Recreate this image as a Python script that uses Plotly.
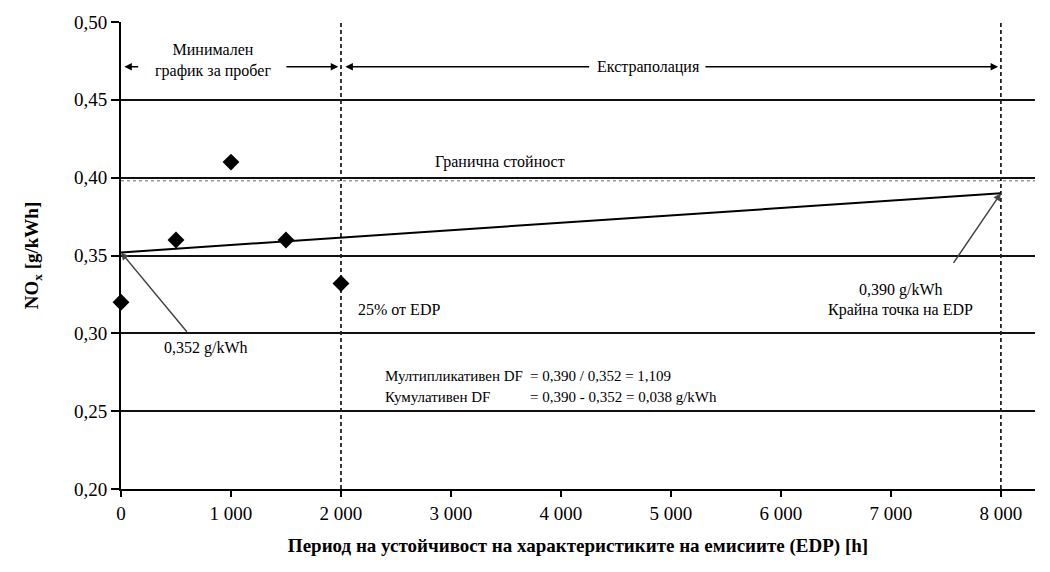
import plotly.graph_objects as go

# Data
test_hours = [0, 500, 1000, 1500, 2000]
nox_values = [0.320, 0.360, 0.410, 0.360, 0.332]
trend_x = [0, 8000]
trend_y = [0.352, 0.390]
limit_value = 0.398
edp_markers = [2000, 8000]
x_ticks = [0, 1000, 2000, 3000, 4000, 5000, 6000, 7000, 8000]
y_ticks = [0.20, 0.25, 0.30, 0.35, 0.40, 0.45, 0.50]

FONT = "Liberation Serif, Times New Roman, serif"
fig = go.Figure()

fig.add_trace(go.Scatter(x=[0, 8310], y=[limit_value, limit_value], mode="lines",
                         line=dict(color="#999999", width=1.5, dash="dot"),
                         hoverinfo="skip", showlegend=False))
for xv in edp_markers:
    fig.add_trace(go.Scatter(x=[xv, xv], y=[0.20, 0.50], mode="lines",
                             line=dict(color="#222222", width=1.8, dash="4px,3px"),
                             hoverinfo="skip", showlegend=False))
fig.add_trace(go.Scatter(x=trend_x, y=trend_y, mode="lines",
                         line=dict(color="black", width=2),
                         showlegend=False))
fig.add_trace(go.Scatter(x=test_hours, y=nox_values, mode="markers",
                         marker=dict(symbol="diamond", size=13, color="black"),
                         cliponaxis=False, showlegend=False))

ann = []
def text(x, y, s, anchor="center", size=16):
    ann.append(dict(x=x, y=y, xref="x", yref="y", text=s, showarrow=False,
                    xanchor=anchor, font=dict(family=FONT, size=size, color="black")))

def arrow(x_head, y_head, x_tail, y_tail, color="black", width=1.5, head=2):
    ann.append(dict(x=x_head, y=y_head, ax=x_tail, ay=y_tail, xref="x", yref="y",
                    axref="x", ayref="y", text="", showarrow=True, arrowhead=head,
                    arrowsize=1, arrowwidth=width, arrowcolor=color))

arrow_y = 0.4713
text(836, 0.4755, "Минимален<br>график за пробег")
arrow(30, arrow_y, 170, arrow_y)
arrow(1975, arrow_y, 1490, arrow_y)
arrow(2040, arrow_y, 4270, arrow_y)
text(4800, arrow_y, "Екстраполация")
arrow(7975, arrow_y, 5300, arrow_y)

text(3445, 0.410, "Гранична стойност")
text(2140, 0.3153, "25% от EDP", anchor="left")
text(7760, 0.3147, "Крайна точка на EDP", anchor="right")
text(7090, 0.328, "0,390 g/kWh")
text(770, 0.2904, "0,352 g/kWh")
text(2380, 0.2725, "Мултипликативен DF", anchor="left", size=15)
text(3700, 0.2725, "= 0,390 / 0,352 = 1,109", anchor="left", size=15)
text(2380, 0.2590, "Кумулативен DF", anchor="left", size=15)
text(3700, 0.2590, "= 0,390 - 0,352 = 0,038 g/kWh", anchor="left", size=15)

arrow(0, 0.352, 610, 0.300, color="#444444", width=1.5)
arrow(8000, 0.390, 7560, 0.3443, color="#444444", width=1.5)

fig.update_layout(
    width=1050, height=572,
    margin=dict(l=121, r=15, t=19, b=83),
    paper_bgcolor="white", plot_bgcolor="white",
    separators=", ",
    showlegend=False,
    annotations=ann,
    font=dict(family=FONT, color="black"),
    xaxis=dict(range=[0, 8310], tickvals=x_ticks, tickformat=",d",
               ticks="outside", ticklen=6, tickwidth=1.5, tickcolor="black",
               showline=True, linecolor="black", linewidth=2, showgrid=False,
               zeroline=False, tickfont=dict(family=FONT, size=19),
               title=dict(text="<b>Период на устойчивост на характеристиките на емисиите (EDP) [h]</b>",
                          font=dict(family=FONT, size=19), standoff=16)),
    yaxis=dict(range=[0.20, 0.50], tickvals=y_ticks, tickformat=".2f",
               ticks="outside", ticklen=8, tickwidth=2, tickcolor="black",
               showline=True, linecolor="black", linewidth=2,
               showgrid=True, gridcolor="#111111", gridwidth=2,
               zeroline=False, tickfont=dict(family=FONT, size=19),
               title=dict(text="<b>NO<sub>x</sub> [g/kWh]</b>",
                          font=dict(family=FONT, size=19), standoff=30)),
)

fig.write_html("out.html")
